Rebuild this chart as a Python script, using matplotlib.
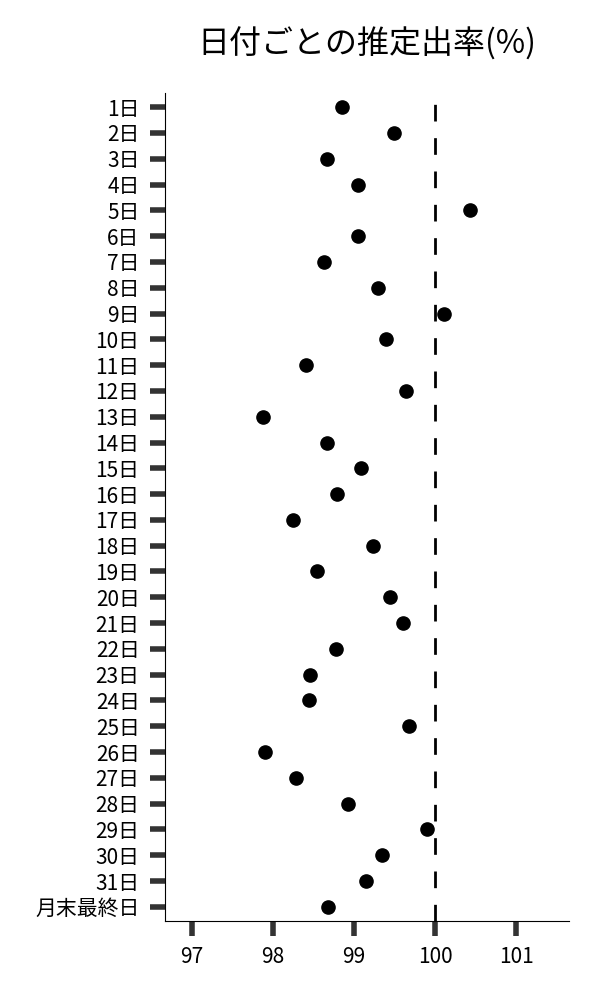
import numpy as np
import matplotlib
matplotlib.use('Agg')
import matplotlib.pyplot as plt

plt.rcParams['font.family'] = ['Noto Sans CJK JP', 'DejaVu Sans']

days = ['{}日'.format(i) for i in range(1, 32)] + ['月末最終日']
rates = [98.85, 99.49, 98.66, 99.05, 100.43, 99.05, 98.63, 99.30, 100.11, 99.39,
         98.40, 99.64, 97.88, 98.66, 99.08, 98.79, 98.25, 99.23, 98.54, 99.44,
         99.60, 98.77, 98.45, 98.44, 99.68, 97.90, 98.28, 98.93, 99.90, 99.35,
         99.15, 98.68]
x_ticks = [97, 98, 99, 100, 101]
ref_line = 100

fig = plt.figure(figsize=(6, 10), dpi=100)
ax = fig.add_axes([0.275, 0.079, 0.673, 0.828])

ypos = np.arange(len(days))
ax.plot(rates, ypos, 'o', color='black', markersize=9.5, zorder=3)
ax.axvline(ref_line, color='black', linewidth=2, linestyle=(0, (6, 6)), zorder=2)

ax.set_yticks(ypos)
ax.set_yticklabels(days)
ax.set_xticks(x_ticks)
ax.set_xlim(96.665, 101.65)
ax.set_ylim(len(days) - 1 + 0.55, -0.55)

for side in ['top', 'right']:
    ax.spines[side].set_visible(False)
for side in ['left', 'bottom']:
    ax.spines[side].set_linewidth(0.8)
    ax.spines[side].set_color('black')

ax.tick_params(axis='both', length=10.8, width=4, color='#333333', labelsize=15, pad=7.5)

ax.set_title('日付ごとの推定出率(%)', fontsize=23, pad=28)

fig.savefig('out.png', dpi=100)
